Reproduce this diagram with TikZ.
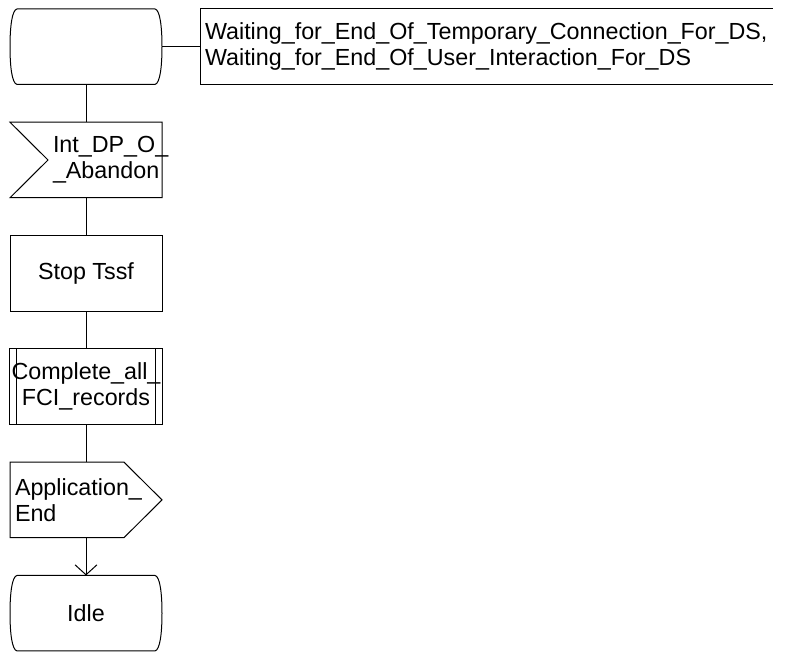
\documentclass[tikz,border=0pt]{standalone}
\usepackage{fontspec}
\setmainfont{Liberation Sans}
\usetikzlibrary{arrows.meta,positioning}
\tikzset{
  every picture/.style={line width=1pt, font=\fontsize{23.3}{26}\selectfont},
  node distance=37.8pt,
  flow/.style={line width=1pt},
  into/.style={flow, -{Straight Barb[length=10pt,width=22pt]}},
  sdl/.style={draw, rectangle, minimum width=152pt, minimum height=75.5pt, inner sep=2pt, outer sep=0pt, align=center},
  stateshape/.style={sdl, draw=none, append after command={\pgfextra{
      \draw[flow] ([xshift=7pt]\tikzlastnode.north west) -- ([xshift=-7pt]\tikzlastnode.north east)
        .. controls +(5,-1) and +(0,20) .. (\tikzlastnode.east)
        .. controls +(0,-20) and +(5,1) .. ([xshift=-7pt]\tikzlastnode.south east)
        -- ([xshift=7pt]\tikzlastnode.south west)
        .. controls +(-5,1) and +(0,-20) .. (\tikzlastnode.west)
        .. controls +(0,20) and +(-5,-1) .. cycle;}}},
  inshape/.style={sdl, draw=none, inner xsep=0pt, text width=152pt, align=left,
    execute at begin node={\leftskip=43pt\hyphenpenalty=10000 },
    append after command={\pgfextra{
      \draw[flow] (\tikzlastnode.north west) -- (\tikzlastnode.north east) -- (\tikzlastnode.south east)
        -- (\tikzlastnode.south west) -- ([xshift=38pt]\tikzlastnode.west) -- cycle;}}},
  outshape/.style={sdl, draw=none, inner xsep=0pt, text width=152pt, align=left,
    execute at begin node={\leftskip=5pt\hyphenpenalty=10000 },
    append after command={\pgfextra{
      \draw[flow] (\tikzlastnode.north west) -- ([xshift=-38pt]\tikzlastnode.north east) -- (\tikzlastnode.east)
        -- ([xshift=-38pt]\tikzlastnode.south east) -- (\tikzlastnode.south west) -- cycle;}}},
  task/.style={sdl},
  proc/.style={sdl, path picture={
      \draw ([xshift=7pt]path picture bounding box.north west) -- ([xshift=7pt]path picture bounding box.south west);
      \draw ([xshift=-7pt]path picture bounding box.north east) -- ([xshift=-7pt]path picture bounding box.south east);}},
  cmtbox/.style={align=left, inner xsep=5pt, minimum height=75.5pt, outer sep=0pt, anchor=west},
}

\begin{document}
\begin{tikzpicture}[x=1pt, y=1pt]
  \useasboundingbox (0,0) rectangle (795,-652);
  \node[stateshape] (st) at (86,-46.7) {};
  \node[cmtbox, right=38pt of st] (cmt) {Waiting\_for\_End\_Of\_Temporary\_Connection\_For\_DS,\\Waiting\_for\_End\_Of\_User\_Interaction\_For\_DS};
  \draw[flow] (cmt.north east) -- (cmt.north west) -- (cmt.south west) -- (cmt.south east);
  \draw[flow] (st) -- (cmt);

  \node[inshape, below=of st] (abandon) {Int\_DP\_O\_\\\_Abandon};
  \node[task, below=of abandon] (stop) {Stop Tssf};
  \node[proc, below=of stop] (fci) {Complete\_all\_\\FCI\_records};
  \node[outshape, below=of fci] (appEnd) {Application\_\\End};
  \node[stateshape, below=of appEnd] (idle) {Idle};

  \draw[flow] (st) -- (abandon);
  \draw[flow] (abandon) -- (stop);
  \draw[flow] (stop) -- (fci);
  \draw[flow] (fci) -- (appEnd);
  \draw[into] (appEnd) -- (idle);
\end{tikzpicture}
\end{document}
